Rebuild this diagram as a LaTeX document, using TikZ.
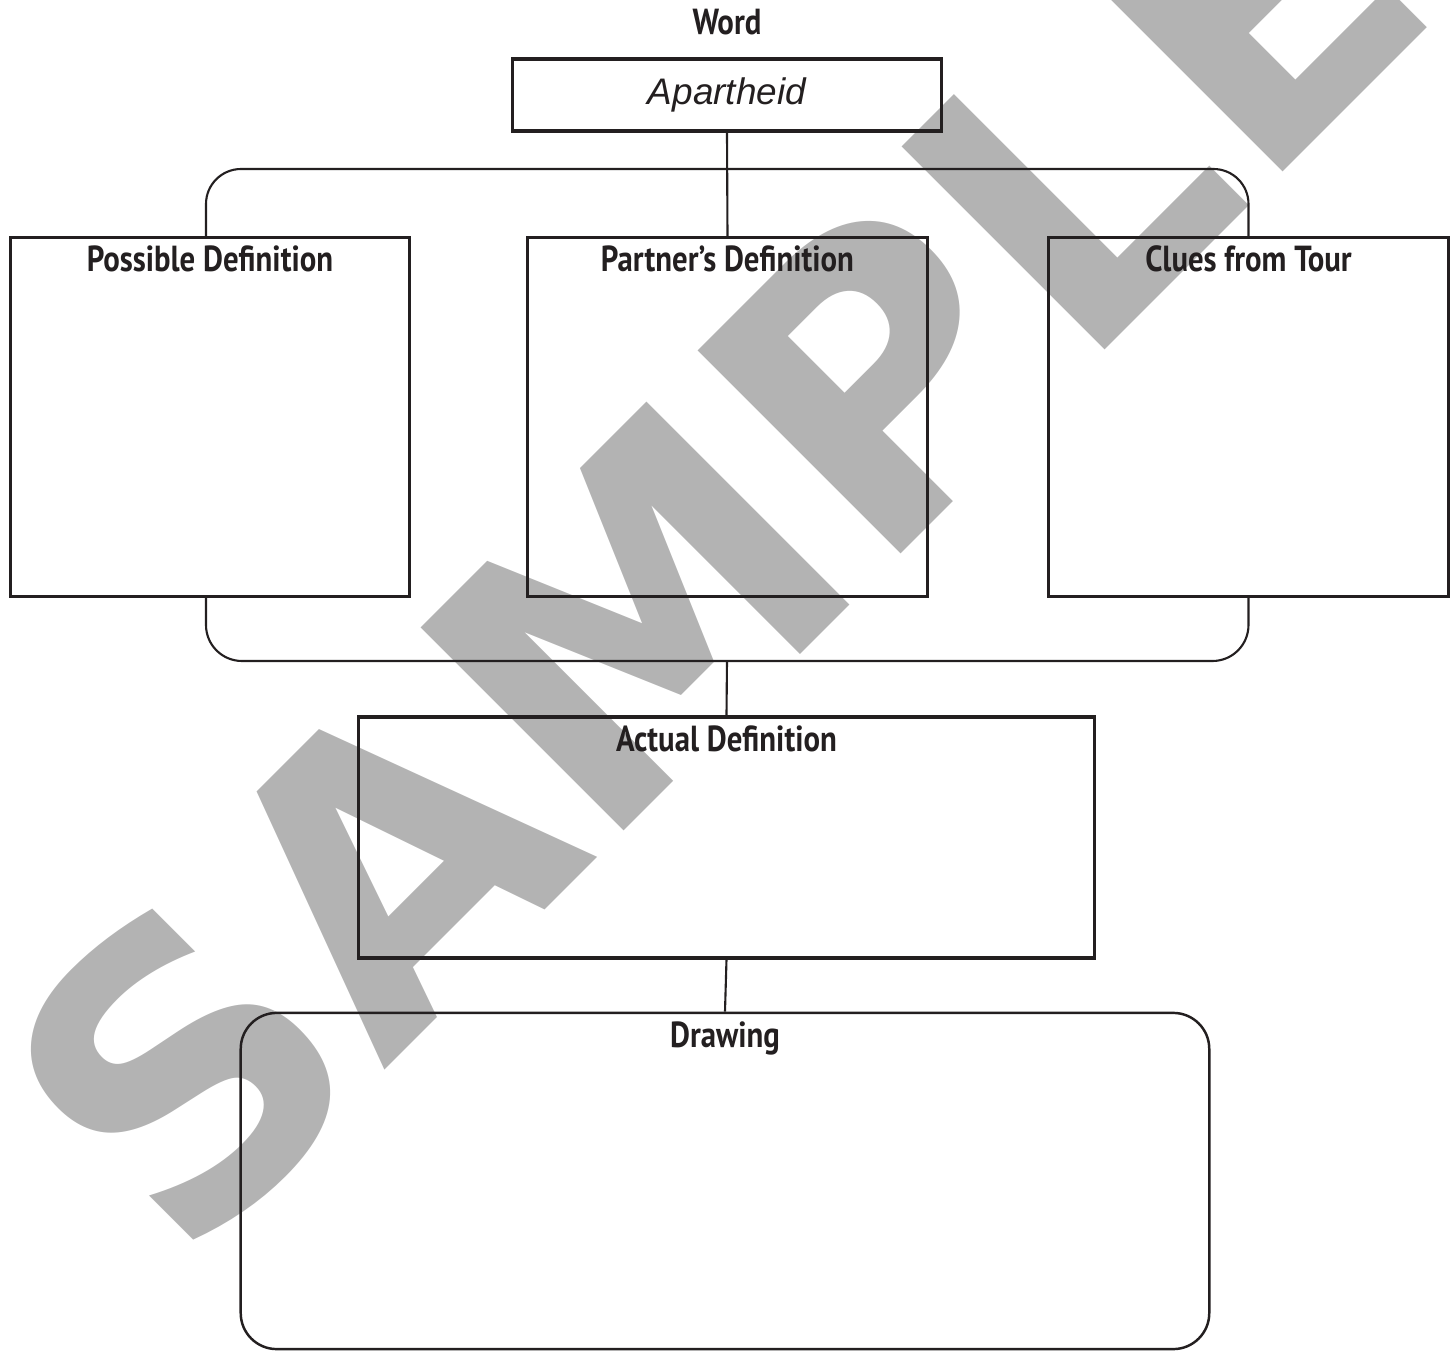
\documentclass[tikz,border=0pt]{standalone}
\usepackage{fontspec}
\setmainfont{PT Sans}[FakeStretch=0.85]
\newfontfamily\wordfont{Liberation Sans}
\newfontfamily\stampfont{DejaVu Sans}
\usetikzlibrary{positioning,calc}
\definecolor{ink}{HTML}{231F20}
\definecolor{stampgray}{HTML}{B3B3B3}

\begin{document}
\begin{tikzpicture}[x=0.01cm, y=-0.01cm,
  every node/.style={text=ink},
  wordbox/.style={draw=ink, line width=0.9pt, minimum width=4.28cm, minimum height=0.72cm, inner sep=0pt},
  defbox/.style={draw=ink, line width=0.9pt, minimum width=3.99cm, minimum height=3.58cm, inner sep=0pt},
  headlabel/.style={font=\fontsize{10.3}{12}\selectfont\bfseries, anchor=base, inner sep=0pt},
  link/.style={draw=ink, line width=0.6pt},
  stamp/.style={text=stampgray, font=\stampfont\bfseries\fontsize{112}{112}\selectfont, rotate=45, anchor=base west, inner sep=0pt},
]
\useasboundingbox (0,0) rectangle (1453,1351);

% watermark behind everything
\begin{scope}
  \clip (0,0) rectangle (1453,1351);
  \node[stamp] (mark) at (182,1273) {SAMPLE};
\end{scope}

% word
\node[headlabel] (wordlabel) at (727,34) {Word};
\node[wordbox, font=\wordfont\itshape\fontsize{10.5}{12}\selectfont] (word) at (727,95) {Apartheid};

% three definition boxes
\node[defbox] (poss) at (210,417) {};
\node[defbox] (partner) at (727.5,417) {};
\node[defbox] (clues) at (1248.5,417) {};
\node[headlabel] (posslabel) at ([yshift=-0.355cm]poss.north) {Possible Definition};
\node[headlabel] (partnerlabel) at ([yshift=-0.355cm]partner.north) {Partner’s Definition};
\node[headlabel] (clueslabel) at ([yshift=-0.355cm]clues.north) {Clues from Tour};

% actual definition and drawing
\node[draw=ink, line width=0.9pt, minimum width=7.35cm, minimum height=2.41cm, inner sep=0pt] (actual) at (726.5,837.5) {};
\node[headlabel] (actuallabel) at ([yshift=-0.36cm]actual.north) {Actual Definition};
\node[draw=ink, line width=0.7pt, rounded corners=0.36cm, minimum width=9.68cm, minimum height=3.36cm, inner sep=0pt] (drawing) at (725,1181) {};
\node[headlabel] (drawinglabel) at ([yshift=-0.355cm]drawing.north) {Drawing};

% connectors
\coordinate (topbar) at (727,169);
\coordinate (botbar) at (727,661);
\draw[link, rounded corners=0.35cm] ([xshift=-0.04cm]poss.north) |- (topbar) -| (clues.north);
\draw[link, rounded corners=0.36cm] ([xshift=-0.04cm]poss.south) |- (botbar) -| (clues.south);
\draw[link] (word.south) -- (partner.north);
\draw[link] (botbar) -- (actual.north);
\draw[link] (actual.south) -- (drawing.north);

\end{tikzpicture}
\end{document}
